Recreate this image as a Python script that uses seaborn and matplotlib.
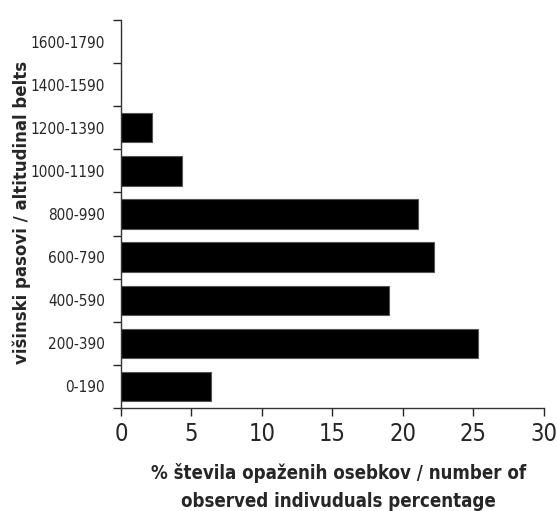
import matplotlib
matplotlib.use('Agg')
import matplotlib.pyplot as plt
import seaborn as sns
import pandas as pd
import numpy as np

sns.set_style('ticks')
plt.rcParams['font.family'] = ['DejaVu Sans']
plt.rcParams['font.stretch'] = 'condensed'

# altitudinal belts, top to bottom as drawn
belts = ['1600-1790', '1400-1590', '1200-1390', '1000-1190', '800-990',
         '600-790', '400-590', '200-390', '0-190']
percent = [0, 0, 2.2, 4.3, 21.1, 22.2, 19.0, 25.3, 6.4]

df = pd.DataFrame({'belt': belts, 'pct': percent})

fig = plt.figure(figsize=(5.57, 5.11), dpi=100)
ax = fig.add_axes([0.2172, 0.2016, 0.7594, 0.7593])

sns.barplot(data=df, x='pct', y='belt', order=belts, orient='h', color='black',
            saturation=1, width=0.68, edgecolor='#555555', linewidth=0.8, ax=ax)

ax.set_xlim(0, 30)
ax.set_ylim(len(belts) - 0.5, -0.5)
ax.set_xticks(np.arange(0, 31, 5))
ax.tick_params(axis='x', direction='out', length=6, width=1, labelsize=17, pad=4)

# tick marks sit between the belts, labels at the bar centres
ax.set_yticks(np.arange(-0.5, len(belts), 1))
ax.set_yticklabels([])
ax.tick_params(axis='y', which='major', direction='out', length=6, width=1)
ax.set_yticks(np.arange(len(belts)), minor=True)
ax.set_yticklabels(belts, minor=True)
ax.tick_params(axis='y', which='minor', length=0, labelsize=11, pad=11.5)

sns.despine(ax=ax)
for s in ['left', 'bottom']:
    ax.spines[s].set_color('#333333')
    ax.spines[s].set_linewidth(1)

ax.set_xlabel('% števila opaženih osebkov / number of\nobserved indivuduals percentage',
              fontsize=13.4, fontweight='bold', linespacing=1.6)
ax.xaxis.set_label_coords(0.515, -0.142)
ax.set_ylabel('višinski pasovi / altitudinal belts', fontsize=13.3,
              fontweight='bold')
ax.yaxis.set_label_coords(-0.213, 0.505)

fig.savefig('out.png', dpi=100)
